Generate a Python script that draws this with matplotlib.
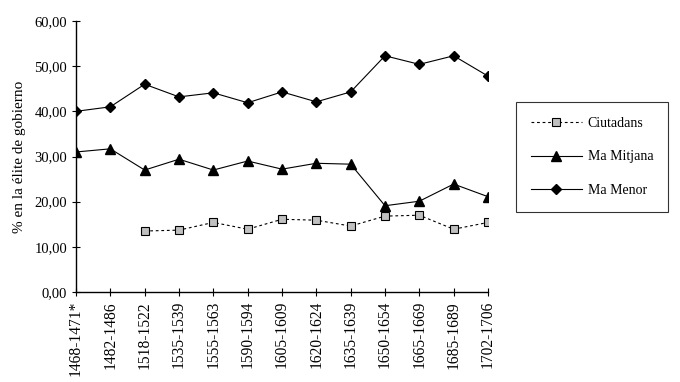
import matplotlib
matplotlib.use("Agg")
import matplotlib.pyplot as plt
import numpy as np

categories = ["1468-1471*", "1482-1486", "1518-1522", "1535-1539", "1555-1563",
              "1590-1594", "1605-1609", "1620-1624", "1635-1639", "1650-1654",
              "1665-1669", "1685-1689", "1702-1706"]
ciutadans = [np.nan, np.nan, 13.5, 13.7, 15.4, 13.9, 16.1, 15.9, 14.6, 16.8, 17.0, 13.9, 15.4]
ma_mitjana = [31.0, 31.7, 27.0, 29.4, 27.0, 29.0, 27.2, 28.5, 28.3, 19.1, 20.1, 23.9, 21.1]
ma_menor = [40.0, 41.0, 46.0, 43.2, 44.1, 41.9, 44.3, 42.1, 44.3, 52.3, 50.4, 52.3, 47.8]
yticks = [0, 10, 20, 30, 40, 50, 60]
ytick_labels = ["0,00", "10,00", "20,00", "30,00", "40,00", "50,00", "60,00"]

serif = "Liberation Serif"
fig = plt.figure(figsize=(6.8, 3.82), dpi=100)
ax = fig.add_axes([76/680, 1-292/382, (488-76)/680, (292-21)/382])
x = np.arange(len(categories))

l1, = ax.plot(x, ciutadans, color="black", lw=0.8, ls=(0, (2.5, 2.5)), marker="s",
              ms=6, mfc="#c0c0c0", mec="black", mew=0.8, label="Ciutadans")
l2, = ax.plot(x, ma_mitjana, color="black", lw=0.8, marker="^", ms=7,
              mfc="black", mec="black", label="Ma Mitjana")
l3, = ax.plot(x, ma_menor, color="black", lw=0.8, marker="D", ms=5,
              mfc="black", mec="black", label="Ma Menor")

ax.set_xlim(0, len(categories) - 1)
ax.set_ylim(0, 60)
ax.set_yticks(yticks)
ax.set_yticklabels(ytick_labels, fontfamily=serif, fontsize=10.5)
ax.set_xticks(x)
ax.set_xticklabels(categories, rotation=90, fontfamily=serif, fontsize=11.2)
ax.tick_params(direction="inout", length=6, width=0.8, colors="black")
for s in ["top", "right"]:
    ax.spines[s].set_visible(False)
for s in ["left", "bottom"]:
    ax.spines[s].set_linewidth(1.0)
ax.set_ylabel("% en la élite de gobierno", fontfamily=serif, fontsize=11, labelpad=6)

leg = fig.legend(handles=[l1, l2, l3], loc="upper left",
                 bbox_to_anchor=(516/680, 1-102/382), prop={"family": serif, "size": 10},
                 frameon=True, fancybox=False, edgecolor="black", handlelength=3.7,
                 labelspacing=1.5, borderpad=1.05, handletextpad=0.4,
                 borderaxespad=0)
leg.get_frame().set_linewidth(0.8)

fig.savefig("out.png", dpi=100)
